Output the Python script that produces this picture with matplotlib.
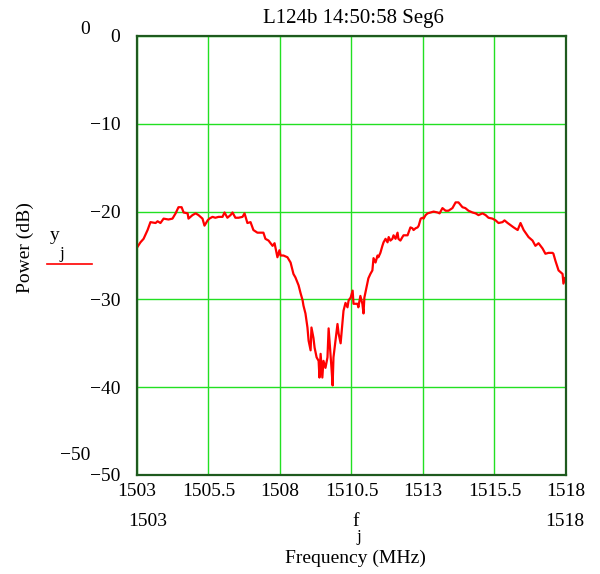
import matplotlib
matplotlib.use("Agg")
import matplotlib.pyplot as plt
from matplotlib.lines import Line2D

plt.rcParams['font.family'] = ['Liberation Serif', 'DejaVu Serif']

title = "L124b 14:50:58 Seg6"
xlabel = "Frequency (MHz)"
ylabel = "Power (dB)"
xticks = [1503, 1505.5, 1508, 1510.5, 1513, 1515.5, 1518]
xtick_labels = ["1503", "1505.5", "1508", "1510.5", "1513", "1515.5", "1518"]
yticks = [0, -10, -20, -30, -40, -50]

freq = [
    1503.00, 1503.12, 1503.23, 1503.37, 1503.47, 1503.65, 1503.72, 1503.82, 1503.93, 1504.10,
    1504.24, 1504.35, 1504.45, 1504.56, 1504.63, 1504.77, 1504.80, 1504.94, 1505.05, 1505.15,
    1505.29, 1505.36, 1505.47, 1505.53, 1505.64, 1505.74, 1505.85, 1505.99, 1506.06, 1506.16,
    1506.27, 1506.34, 1506.44, 1506.55, 1506.69, 1506.76, 1506.86, 1506.97, 1507.07, 1507.21,
    1507.32, 1507.42, 1507.49, 1507.60, 1507.74, 1507.81, 1507.91, 1507.98, 1508.02, 1508.12,
    1508.26, 1508.37, 1508.44, 1508.47, 1508.54, 1508.65, 1508.72, 1508.79, 1508.82, 1508.89,
    1508.96, 1509.00, 1509.07, 1509.10, 1509.17, 1509.21, 1509.28, 1509.35, 1509.38, 1509.42,
    1509.48, 1509.52, 1509.59, 1509.66, 1509.70, 1509.80, 1509.84, 1509.87, 1509.94, 1510.01,
    1510.05, 1510.12, 1510.19, 1510.22, 1510.29, 1510.36, 1510.40, 1510.47, 1510.54, 1510.57,
    1510.64, 1510.71, 1510.74, 1510.81, 1510.88, 1510.92, 1510.95, 1511.02, 1511.09, 1511.16,
    1511.23, 1511.27, 1511.34, 1511.41, 1511.44, 1511.51, 1511.58, 1511.62, 1511.69, 1511.76,
    1511.80, 1511.86, 1511.93, 1511.97, 1512.04, 1512.11, 1512.14, 1512.21, 1512.28, 1512.32,
    1512.46, 1512.56, 1512.63, 1512.67, 1512.74, 1512.81, 1512.85, 1512.92, 1512.99, 1513.02,
    1513.09, 1513.16, 1513.26, 1513.37, 1513.51, 1513.58, 1513.68, 1513.79, 1513.89, 1514.03,
    1514.14, 1514.24, 1514.38, 1514.48, 1514.59, 1514.73, 1514.84, 1514.94, 1515.08, 1515.19,
    1515.29, 1515.43, 1515.54, 1515.64, 1515.78, 1515.85, 1515.96, 1516.17, 1516.31, 1516.41,
    1516.52, 1516.69, 1516.83, 1516.93, 1517.04, 1517.18, 1517.28, 1517.39, 1517.53, 1517.56,
    1517.63, 1517.74, 1517.88, 1517.91, 1517.98, 1518.00,
]
power = [
    -24.1, -23.5, -23.1, -22.1, -21.2, -21.3, -21.1, -21.3, -20.8, -20.9,
    -20.8, -20.2, -19.5, -19.5, -20.1, -20.2, -20.8, -20.4, -20.2, -20.4,
    -20.8, -21.6, -21.0, -20.8, -20.6, -20.7, -20.6, -20.6, -20.1, -20.7,
    -20.4, -20.1, -20.7, -20.7, -20.6, -20.2, -21.3, -21.2, -22.1, -22.4,
    -22.4, -22.4, -23.1, -23.3, -23.9, -23.6, -25.2, -24.4, -25.0, -25.0,
    -25.2, -25.8, -26.7, -27.1, -27.5, -28.4, -29.3, -30.1, -30.7, -31.6,
    -33.2, -34.7, -35.8, -33.2, -34.4, -35.5, -36.6, -37.0, -38.9, -36.2,
    -38.9, -37.0, -37.8, -36.6, -33.3, -37.8, -39.8, -36.6, -34.7, -32.8,
    -33.9, -35.0, -32.4, -31.3, -30.4, -30.9, -30.1, -29.8, -29.0, -30.5,
    -30.5, -30.5, -30.9, -29.6, -30.5, -31.6, -29.8, -28.7, -27.6, -27.1,
    -26.7, -25.3, -25.8, -25.0, -25.2, -24.7, -23.9, -23.5, -23.1, -23.5,
    -22.9, -23.3, -23.1, -22.7, -23.1, -22.4, -23.1, -23.3, -22.9, -22.7,
    -22.7, -21.8, -21.9, -22.1, -21.9, -21.8, -21.6, -20.8, -20.7, -20.8,
    -20.4, -20.2, -20.1, -20.0, -20.1, -20.2, -19.6, -19.9, -19.9, -19.6,
    -18.95, -18.95, -19.5, -19.6, -19.9, -20.1, -20.2, -20.4, -20.2, -20.4,
    -20.7, -20.8, -21.0, -21.3, -21.2, -21.0, -21.3, -21.8, -22.1, -21.3,
    -22.1, -22.9, -23.3, -23.9, -23.6, -24.2, -24.8, -24.7, -24.7, -24.8,
    -25.6, -26.7, -27.1, -28.2, -27.5, -27.9,
]

W, H = 600, 574
fig = plt.figure(figsize=(W / 100, H / 100), dpi=100)
ax = fig.add_axes([137 / W, 1 - 475 / H, (566 - 137) / W, (475 - 36) / H])

ax.plot(freq, power, color='#ff0000', lw=1.6)

ax.set_xlim(1503, 1518)
ax.set_ylim(-50, 0)
ax.set_xticks(xticks)
ax.set_xticklabels(xtick_labels)
ax.set_yticks(yticks)
ax.grid(True, color='#22e022', lw=1.0)
ax.set_axisbelow(True)
ax.tick_params(length=0, labelsize=14, pad=6)
ax.tick_params(axis='y', pad=12)
for s in ax.spines.values():
    s.set_color('#1e5a1e')
    s.set_linewidth(1.6)

def ft(x, y, s, **kw):
    fig.text(x / W, 1 - y / H, s, **kw)

ft(353, 18, title, ha='center', va='center', fontsize=15)
ft(85, 30, "0", ha='center', va='center', fontsize=14)
ft(75, 455, "\u221250", ha='center', va='center', fontsize=14)
ft(25, 248, ylabel, ha='center', va='center', rotation=90, fontsize=14)
ft(55, 235, "y", ha='center', va='center', fontsize=14)
ft(62, 254, "j", ha='center', va='center', fontsize=12)
fig.add_artist(Line2D([47 / W, 92 / W], [1 - 264 / H, 1 - 264 / H], color='#ff0000', lw=1.2))
ft(148, 522, "1503", ha='center', va='center', fontsize=14)
ft(565, 522, "1518", ha='center', va='center', fontsize=14)
ft(356, 521, "f", ha='center', va='center', fontsize=14)
ft(359, 537, "j", ha='center', va='center', fontsize=12)
ft(355, 558, xlabel, ha='center', va='center', fontsize=14)

fig.savefig("out.png", dpi=100)
